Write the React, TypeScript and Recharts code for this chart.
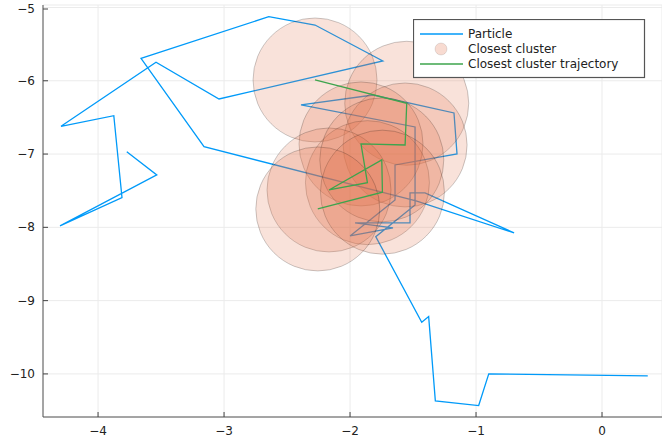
import {
  CartesianGrid,
  ComposedChart,
  Legend,
  Line,
  Scatter,
  XAxis,
  YAxis,
} from 'recharts';

// particle path, in drawing order
const particleX = [
  -3.772, -3.534, -4.302, -3.81, -3.875, -4.294, -3.54, -3.04, -1.74, -2.278,
  -2.645, -3.659, -3.159, -1.476, -0.698, -1.405, -1.524, -1.524, -1.96, -1.659,
  -2.0, -1.643, -1.643, -1.151, -1.175, -1.817, -2.389, -1.484, -1.484, -1.796,
  -1.431, -1.376, -1.323, -0.979, -0.899, 0.363,
];
const particleY = [
  -6.967, -7.285, -7.981, -7.595, -6.476, -6.621, -5.748, -6.248, -5.73, -5.239,
  -5.125, -5.693, -6.899, -7.64, -8.076, -7.531, -7.531, -7.94, -7.94, -8.008,
  -8.117, -7.626, -7.149, -6.999, -6.439, -6.194, -6.33, -6.63, -7.694, -8.127,
  -9.295, -9.218, -10.368, -10.432, -10.0, -10.027,
];

// closest cluster centres over time
const clusterX = [-2.278, -1.55, -1.563, -1.913, -1.862, -2.167, -1.748, -1.743, -2.256];
const clusterY = [-5.989, -6.307, -6.876, -6.862, -7.39, -7.49, -7.08, -7.52, -7.749];

const xTicks = [-4, -3, -2, -1, 0];
const yTicks = [-10, -9, -8, -7, -6, -5];

const particle = particleX.map((x, i) => ({x, y: particleY[i]}));
const clusters = clusterX.map((x, i) => ({x, y: clusterY[i]}));

const BLUE = '#009af9';
const ORANGE = '#e26f46';
const GREEN = '#3da44d';
const FONT = '"DejaVu Sans", sans-serif';

const fmt = (v: number) => (v < 0 ? '\u2212' + Math.abs(v) : String(v));

const XTick = (props: any) => {
  const {x, y, payload} = props;
  return (
    <g>
      <line x1={x} x2={x} y1={y} y2={y - 5} stroke="#444" />
      <text x={x} y={y + 18} textAnchor="middle" fontSize={12} fontFamily={FONT} fill="#222">
        {fmt(payload.value)}
      </text>
    </g>
  );
};

const YTick = (props: any) => {
  const {x, y, payload} = props;
  return (
    <g>
      <line x1={x} x2={x + 5} y1={y} y2={y} stroke="#444" />
      <text x={x - 8} y={y + 4} textAnchor="end" fontSize={12} fontFamily={FONT} fill="#222">
        {fmt(payload.value)}
      </text>
    </g>
  );
};

const ClusterDot = (props: any) => (
  <circle
    cx={props.cx}
    cy={props.cy}
    r={62}
    fill={ORANGE}
    fillOpacity={0.2}
    stroke="#000"
    strokeOpacity={0.2}
    strokeWidth={1}
  />
);

const NoDot = () => <g />;

const LegendBox = () => (
  <svg width={233} height={60} style={{display: 'block'}}>
    <rect x={0.5} y={0.5} width={231} height={58} fill="#fff" stroke="#555" strokeWidth={1.2} />
    <line x1={7} x2={50} y1={15} y2={15} stroke={BLUE} strokeWidth={1.5} />
    <circle cx={28} cy={30} r={6} fill={ORANGE} fillOpacity={0.25} stroke="#000" strokeOpacity={0.1} />
    <line x1={7} x2={50} y1={45} y2={45} stroke={GREEN} strokeWidth={1.5} />
    <g fontSize={12} fontFamily={FONT} fill="#222">
      <text x={55} y={19}>Particle</text>
      <text x={55} y={34}>Closest cluster</text>
      <text x={55} y={49}>Closest cluster trajectory</text>
    </g>
  </svg>
);

export default function App() {
  return (
    <div style={{position: 'absolute', left: 0, top: 0, background: '#fff'}}>
      <ComposedChart width={662} height={441} margin={{top: 5, right: 0, bottom: 0, left: 0}}>
        <CartesianGrid stroke="#ebebeb" strokeWidth={1} />
        <XAxis
          type="number"
          dataKey="x"
          domain={[-4.437, 0.476]}
          ticks={xTicks}
          allowDataOverflow
          height={24}
          tickSize={0}
          tickMargin={0}
          tickLine={false}
          tick={<XTick />}
          axisLine={{stroke: '#555', strokeWidth: 1}}
        />
        <YAxis
          type="number"
          dataKey="y"
          domain={[-10.588, -4.966]}
          ticks={yTicks}
          allowDataOverflow
          width={43}
          tickSize={0}
          tickMargin={0}
          tickLine={false}
          tick={<YTick />}
          axisLine={{stroke: '#555', strokeWidth: 1}}
        />
        <Line
          data={particle}
          dataKey="y"
          type="linear"
          stroke={BLUE}
          strokeWidth={1.3}
          dot={false}
          isAnimationActive={false}
        />
        <Scatter data={clusters} dataKey="y" shape={<ClusterDot />} isAnimationActive={false} />
        <Scatter
          data={clusters}
          dataKey="y"
          shape={<NoDot />}
          line={{stroke: GREEN, strokeWidth: 1.3}}
          lineType="joint"
          isAnimationActive={false}
        />
        <Legend
          layout="horizontal"
          align="center"
          verticalAlign="middle"
          content={<LegendBox />}
          wrapperStyle={{position: 'absolute', left: 413, top: 19, width: 233, height: 60}}
        />
      </ComposedChart>
    </div>
  );
}
